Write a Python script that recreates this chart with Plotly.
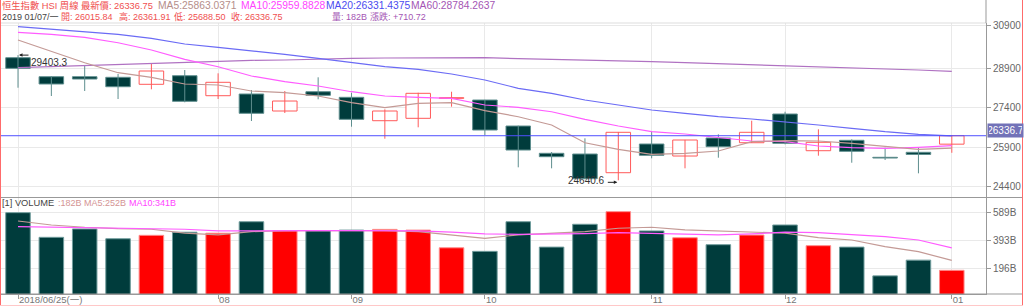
import plotly.graph_objects as go

# ---------------- data ----------------
weeks = ["2018/06/25", "2018/07/02", "2018/07/09", "2018/07/16", "2018/07/23", "2018/07/30",
         "2018/08/06", "2018/08/13", "2018/08/20", "2018/08/27", "2018/09/03", "2018/09/10",
         "2018/09/17", "2018/09/24", "2018/10/01", "2018/10/08", "2018/10/15", "2018/10/22",
         "2018/10/29", "2018/11/05", "2018/11/12", "2018/11/19", "2018/11/26", "2018/12/03",
         "2018/12/10", "2018/12/17", "2018/12/24", "2018/12/31", "2019/01/07"]

open_ = [29305, 28582, 28582, 28559, 28293, 28620, 27859, 27924, 27277, 28011, 27798, 26908,
         26999, 27760, 27695, 26706, 25668, 25641, 24930, 26022, 25565, 26250, 26071, 27163,
         25767, 26162, 25516, 25706, 26015.84]
high = [29403.3, 28600, 29000, 28685, 29092, 28837, 28711, 28076, 28038, 28559, 27973, 27342,
        27973, 28011, 27700, 26720, 25717, 26239, 26480, 26516, 26180, 26391, 26908, 27250,
        26581, 26200, 25881, 25881, 26361.91]
low = [28163, 27848, 28038, 27734, 28102, 27608, 27734, 26897, 27201, 27722, 26680, 26223,
       26657, 27441, 26364, 25135, 25097, 24690, 24640.6, 25478, 25097, 25501, 26060, 26010,
       25577, 25310, 25413, 24907, 25688.50]
close = [28901, 28304, 28494, 28201, 28799, 27646, 28369, 27190, 27657, 27874, 26961, 27277,
         27950, 27783, 26554, 25793, 25539, 24702, 26467, 25592, 26174, 25919, 26467, 26048,
         26086, 25744, 25489, 25626.03, 26336.75]

ma5 = [29977, 29533, 29114, 28734, 28559, 28304, 28266, 28038, 27973, 27848, 27593, 27403,
       27570, 27593, 27289, 27060, 26744, 26071, 25820, 25630, 25668, 25755, 26109, 26147,
       26136, 26048, 25946, 25820, 25863.04]
ma10 = [30271, 30194, 30080, 29875, 29597, 29244, 28962, 28608, 28392, 28228, 28011, 27848,
        27798, 27760, 27505, 27418, 27250, 26961, 26706, 26490, 26402, 26277, 26136, 26109,
        25946, 25881, 25858, 25896, 25959.88]
ma20 = [30484, 30396, 30294, 30194, 30042, 29826, 29700, 29571, 29434, 29282, 29114, 28962,
        28863, 28685, 28456, 28141, 27950, 27696, 27505, 27315, 27190, 27060, 26973, 26870,
        26744, 26619, 26490, 26391, 26331.44]
ma60 = [28924, 28962, 29015, 29065, 29103, 29141, 29179, 29206, 29217, 29255, 29282, 29293,
        29305, 29305, 29305, 29267, 29244, 29217, 29190, 29152, 29114, 29076, 29038, 29015,
        28962, 28924, 28886, 28837, 28784.26]

volume = [589, 415, 474, 405, 429, 451, 444, 525, 461, 461, 466, 471, 466, 341, 316, 525, 346,
          507, 596, 460, 412, 363, 431, 502, 356, 346, 143, 254, 182]
vol_ma5 = [530, 502, 486, 476, 472, 444, 432, 455, 462, 462, 462, 462, 455, 432, 408, 432, 444,
           455, 479, 486, 467, 460, 455, 444, 413, 396, 349, 314, 252]
vol_ma10 = [490, 486, 483, 479, 474, 472, 460, 462, 462, 462, 462, 462, 460, 451, 439, 436, 436,
            441, 448, 444, 439, 432, 439, 451, 448, 432, 420, 396, 341]

price_ticks = [24400, 25900, 27400, 28900, 30548]
price_tick_text = ["24400", "25900", "27400", "28900", "30900"]
vol_ticks = [196.3, 392.7, 589]
vol_tick_text = ["196B", "393B", "589B"]
month_idx = [0, 6, 10, 14, 19, 23, 28]
month_text = ["2018/06/25(一)", "08", "09", "10", "11", "12", "01"]

last_price = 26336.75
last_price_label = "26336.7"
hi_label, hi_idx = "29403.3", 0
lo_label, lo_idx = "24640.6", 18

# ---------------- styling ----------------
W, H = 1024, 306
ML, MR, MT, MB = 0, 38, 23, 12
PW, PH = W - ML - MR, H - MT - MB
split = (294 - 197.5) / PH

DARK_FILL, DARK_LINE = "#003c3c", "#5e8e8e"
RED_LINE = "#ff5a5a"
C_MA5, C_MA10, C_MA20, C_MA60 = "#c49a96", "#ff5cff", "#6b6bf5", "#b072c2"
FONT = "Liberation Sans, Arial, Noto Sans CJK TC, sans-serif"

x = list(range(len(weeks)))
up = [c >= o for o, c in zip(open_, close)]

fig = go.Figure()

# wicks
for flag, col in [(False, DARK_LINE), (True, RED_LINE)]:
    wx, wy = [], []
    for i in x:
        if up[i] == flag:
            wx += [i, i, None]
            wy += [low[i], high[i], None]
    fig.add_trace(go.Scatter(x=wx, y=wy, mode="lines", line=dict(color=col, width=1),
                             hoverinfo="skip", xaxis="x", yaxis="y"))

# bodies
fig.add_trace(go.Bar(
    x=x, base=[min(o, c) for o, c in zip(open_, close)],
    y=[max(abs(c - o), 8) for o, c in zip(open_, close)],
    width=0.735,
    marker=dict(color=["#ffffff" if u else DARK_FILL for u in up],
                line=dict(color=[RED_LINE if u else DARK_LINE for u in up], width=1)),
    xaxis="x", yaxis="y"))

for arr, col in [(ma60, C_MA60), (ma20, C_MA20), (ma10, C_MA10), (ma5, C_MA5)]:
    fig.add_trace(go.Scatter(x=x, y=arr, mode="lines", line=dict(color=col, width=1.2),
                             xaxis="x", yaxis="y"))

# volume
fig.add_trace(go.Bar(
    x=x, y=volume, width=0.735,
    marker=dict(color=["#ff0000" if u else DARK_FILL for u in up],
                line=dict(color=["#ff8a8a" if u else "#6f9c9c" for u in up], width=1)),
    xaxis="x2", yaxis="y2"))
fig.add_trace(go.Scatter(x=x, y=vol_ma5, mode="lines", line=dict(color=C_MA5, width=1.2),
                         xaxis="x2", yaxis="y2"))
fig.add_trace(go.Scatter(x=x, y=vol_ma10, mode="lines", line=dict(color=C_MA10, width=1.2),
                         xaxis="x2", yaxis="y2"))

xr = [-18 / 33.35, -18 / 33.35 + PW / 33.35]
grid = "#e9e9e9"
axis_font = dict(family=FONT, size=10, color="#666666")

fig.update_layout(
    width=W, height=H, margin=dict(l=ML, r=MR, t=MT, b=MB),
    paper_bgcolor="white", plot_bgcolor="white", showlegend=False, barmode="overlay",
    xaxis=dict(domain=[0, 1], range=xr, tickvals=month_idx, showticklabels=False, ticks="",
               showgrid=True, gridcolor=grid, zeroline=False, anchor="y"),
    xaxis2=dict(domain=[0, 1], range=xr, tickvals=month_idx, ticktext=month_text, matches="x",
                ticks="outside", ticklen=4, tickcolor="#999999", showgrid=True, gridcolor=grid,
                ticklabelposition="outside right", ticklabelstandoff=-3,
                tickfont=dict(family=FONT, size=9.5, color="#777777"),
                showline=True, linecolor="#999999", zeroline=False, anchor="y2"),
    yaxis=dict(domain=[split, 1], range=[23987, 30625], side="right", tickvals=price_ticks,
               ticktext=price_tick_text, ticks="outside", ticklen=4, tickcolor="#999999",
               showgrid=True, gridcolor=grid, zeroline=False, showline=True,
               linecolor="#999999", tickfont=axis_font, anchor="x"),
    yaxis2=dict(domain=[0, split], range=[15, 696], side="right", tickvals=vol_ticks,
                ticktext=vol_tick_text, ticks="outside", ticklen=4, tickcolor="#999999",
                showgrid=True, gridcolor=grid, zeroline=False, showline=True,
                linecolor="#999999", tickfont=axis_font, anchor="x2"),
)

def px(xp):
    return (xp - ML) / PW

def py(yp):
    return (294 - yp) / PH

shapes = [
    dict(type="line", xref="x", yref="y", x0=xr[0], x1=xr[1], y0=last_price, y1=last_price,
         line=dict(color="#5050ff", width=1), layer="above"),
    dict(type="line", xref="paper", yref="paper", x0=0, x1=px(1022), y0=split, y1=split,
         line=dict(color="#999999", width=1)),
    dict(type="line", xref="paper", yref="paper", x0=0, x1=px(1022), y0=0, y1=0,
         line=dict(color="#999999", width=1)),
    dict(type="line", xref="paper", yref="paper", x0=0, x1=1, y0=1, y1=1,
         line=dict(color="#dddddd", width=1)),
    dict(type="line", xref="paper", yref="paper", x0=1, x1=1, y0=1, y1=py(0),
         line=dict(color="#999999", width=1)),
    dict(type="line", xref="paper", yref="paper", x0=px(0.5), x1=px(0.5), y0=py(306), y1=py(0),
         line=dict(color="#ff6b6b", width=1)),
    dict(type="line", xref="paper", yref="paper", x0=px(1022.5), x1=px(1022.5), y0=py(306),
         y1=py(0), line=dict(color="#ff6b6b", width=1)),
    dict(type="line", xref="paper", yref="paper", x0=0, x1=px(1023), y0=py(305.5), y1=py(305.5),
         line=dict(color="#ffc8c8", width=1)),
]
fig.update_layout(shapes=shapes)

ann = []

def txt(xp, yp, text, color, size=10.3):
    ann.append(dict(xref="paper", yref="paper", x=px(xp), y=py(yp), text=text, showarrow=False,
                    xanchor="left", yanchor="middle", borderpad=0,
                    font=dict(family=FONT, size=size, color=color)))

RED_T, PUR_T = "#f05050", "#a455b4"
txt(1, 5.5, "恒生指數 HSI 周線 最新價: 26336.75", RED_T, 9.3)
txt(157, 5.5, "MA5:25863.0371", "#b58e8a")
txt(240, 5.5, "MA10:25959.8828", "#ff44ff")
txt(325, 5.5, "MA20:26331.4375", "#4b4bf0")
txt(410, 5.5, "MA60:28784.2637", PUR_T)
txt(1, 16.5, "2019 01/07/一", "#444444", 9)
txt(60, 16.5, "開: 26015.84", RED_T, 9)
txt(118, 16.5, "高: 26361.91", RED_T, 9)
txt(173, 16.5, "低: 25688.50", RED_T, 9)
txt(230, 16.5, "收: 26336.75", RED_T, 9)
txt(331, 16.5, "量: 182B", PUR_T, 9)
txt(369, 16.5, "漲跌: +710.72", PUR_T, 9)
txt(1, 203, "[1] VOLUME", "#444444", 9.3)
txt(57, 203, ":182B MA5:252B", "#d49494", 9)
txt(128, 203, "MA10:341B", "#ff44ff", 9)

# high / low markers
ann.append(dict(xref="x", yref="y", x=hi_idx, y=high[hi_idx], text="", showarrow=True,
                ax=12, ay=0, arrowhead=2, arrowsize=0.7, arrowwidth=1, arrowcolor="#222222",
                standoff=1))
ann.append(dict(xref="x", yref="y", x=hi_idx, y=high[hi_idx], text=hi_label, showarrow=False,
                xanchor="left", yanchor="middle", xshift=11, yshift=-7,
                font=dict(family=FONT, size=10, color="#333333")))
ann.append(dict(xref="x", yref="y", x=lo_idx, y=low[lo_idx], text="", showarrow=True,
                ax=-12, ay=0, arrowhead=2, arrowsize=0.7, arrowwidth=1, arrowcolor="#222222",
                standoff=1, yshift=-2))
ann.append(dict(xref="x", yref="y", x=lo_idx, y=low[lo_idx], text=lo_label, showarrow=False,
                xanchor="right", yanchor="middle", xshift=-11, yshift=0,
                font=dict(family=FONT, size=10, color="#333333")))

# last price tag on the right axis
ann.append(dict(xref="paper", yref="y", x=px(987), y=last_price, text=last_price_label,
                showarrow=False, xanchor="left", yanchor="middle", yshift=5,
                bgcolor="#7272b8", borderpad=1, width=33,
                font=dict(family=FONT, size=10, color="#ffffff")))

fig.update_layout(annotations=ann)
fig.write_html("out.html")
